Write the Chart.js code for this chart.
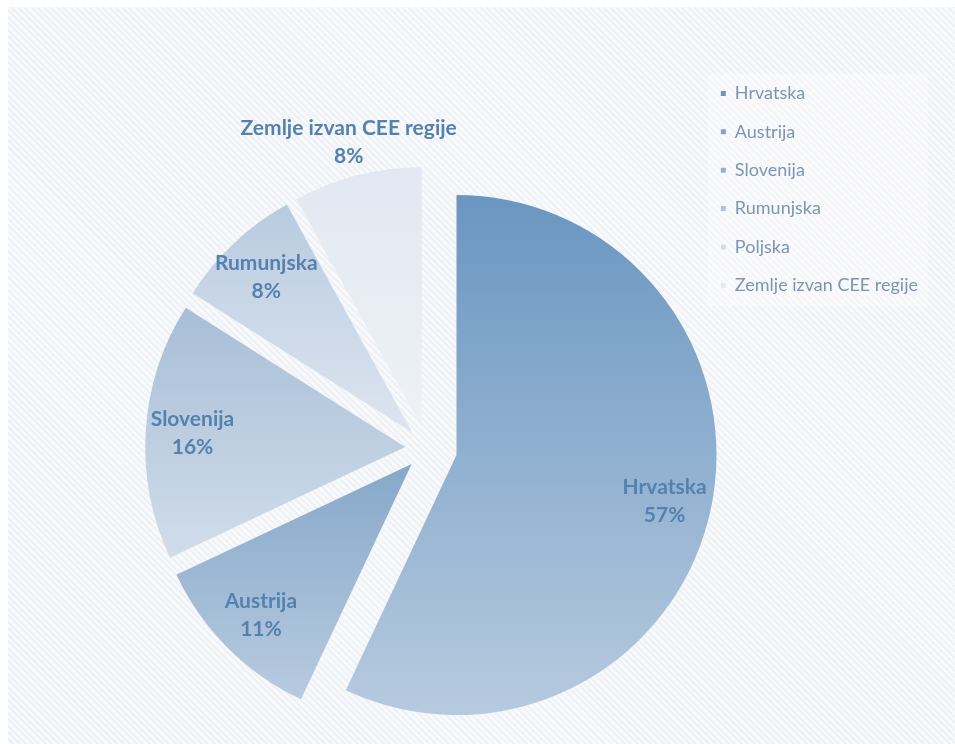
<!DOCTYPE html>
<html>
<head>
<meta charset="utf-8">
<script src="https://cdn.jsdelivr.net/npm/chart.js@4.4.1/dist/chart.umd.min.js"></script>
<style>
  html, body { margin: 0; padding: 0; background: #fff; overflow: hidden; height: 744px; }
  #backdrop {
    position: absolute; left: 8px; top: 7px; width: 947px; height: 737px;
    background: repeating-linear-gradient(45deg, #f8f9fb 0, #f8f9fb 2.6px, #eef1f5 2.6px, #eef1f5 4.6px);
  }
  /* canvas runs past the bottom of the window so the pie sits low beside a top-aligned legend */
  #myChart { position: absolute; left: 0; top: 0; }
</style>
</head>
<body>
<div id="backdrop"></div>
<canvas id="myChart" width="955" height="833"></canvas>
<script>
const countries = ['Hrvatska', 'Austrija', 'Slovenija', 'Rumunjska', 'Poljska', 'Zemlje izvan CEE regije'];
const shares = [57, 11, 16, 8, 0, 8];

// slice fills run top -> bottom, legend keys use a flat tone
const gradientTop = ['#6a96c1', '#86a8ca', '#a7bed7', '#b9cbe0', '#d6dfea', '#e1e8f1'];
const gradientBottom = ['#b6cadf', '#b8cbe0', '#d1dde9', '#dde5ef', '#e9eef4', '#eef2f7'];
const legendColors = ['#6f93bb', '#86a2c2', '#98b0cb', '#b3c3d6', '#d5dde7', '#e6ebf1'];

const pieRadius = 260;
// how far each slice is pulled out (px)
const explodeBy = [30, 22, 22, 22, 22, 22];
const outsideLabels = ['Zemlje izvan CEE regije'];

function sliceGeometry(chart, i) {
  const area = chart.chartArea;
  const total = shares.reduce((a, b) => a + b, 0);
  const before = shares.slice(0, i).reduce((a, b) => a + b, 0);
  const start = -Math.PI / 2 + 2 * Math.PI * before / total;
  const end = start + 2 * Math.PI * shares[i] / total;
  const mid = (start + end) / 2;
  const x = (area.left + area.right) / 2 + Math.cos(mid) * explodeBy[i];
  const y = (area.top + area.bottom) / 2 + Math.sin(mid) * explodeBy[i];
  let top = y, bottom = y;
  for (let k = 0; k <= 40; k++) {
    const a = start + (end - start) * k / 40;
    const py = y + Math.sin(a) * pieRadius;
    top = Math.min(top, py);
    bottom = Math.max(bottom, py);
  }
  return { x, y, mid, top, bottom };
}

function sliceFill(ctx) {
  const chart = ctx.chart;
  const i = ctx.dataIndex;
  if (!chart.chartArea || i === undefined) return gradientBottom[i || 0];
  const g = sliceGeometry(chart, i);
  const grad = chart.ctx.createLinearGradient(0, g.top, 0, g.bottom);
  grad.addColorStop(0, gradientTop[i]);
  grad.addColorStop(1, gradientBottom[i]);
  return grad;
}

// pull every slice out from the middle
const explodePlugin = {
  id: 'explode',
  beforeDatasetsDraw(chart) {
    chart.getDatasetMeta(0).data.forEach((arc, i) => {
      const g = sliceGeometry(chart, i);
      arc.x = g.x;
      arc.y = g.y;
    });
  }
};

// name + percent on each slice
const sliceLabels = {
  id: 'sliceLabels',
  afterDatasetsDraw(chart) {
    const c = chart.ctx;
    c.save();
    c.font = 'bold 21px Lato';
    c.fillStyle = '#5581af';
    c.textAlign = 'center';
    c.textBaseline = 'middle';
    shares.forEach((v, i) => {
      if (!v) return;
      const g = sliceGeometry(chart, i);
      const r = pieRadius * (outsideLabels.includes(countries[i]) ? 1.13 : 0.82);
      const lx = g.x + Math.cos(g.mid) * r;
      const ly = g.y + Math.sin(g.mid) * r;
      c.fillText(countries[i], lx, ly - 14);
      c.fillText(v + '%', lx, ly + 14);
    });
    c.restore();
  }
};

// soft white panel behind the legend
const legendPanel = {
  id: 'legendPanel',
  beforeDraw(chart) {
    const boxes = chart.legend && chart.legend.legendHitBoxes;
    if (!boxes || !boxes.length) return;
    const first = boxes[0], last = boxes[boxes.length - 1];
    const right = Math.max(...boxes.map(b => b.left + b.width));
    const c = chart.ctx;
    c.save();
    c.fillStyle = 'rgba(255,255,255,0.4)';
    c.fillRect(first.left - 13, first.top - 10, right - first.left + 23, last.top + last.height + 12 - (first.top - 10));
    c.restore();
  }
};

const data = {
  labels: countries,
  datasets: [{
    data: shares,
    backgroundColor: sliceFill,
    borderWidth: 0
  }]
};

const config = {
  type: 'pie',
  data: data,
  plugins: [legendPanel, explodePlugin, sliceLabels],
  options: {
    responsive: false,
    animation: false,
    devicePixelRatio: 1,
    radius: pieRadius,
    layout: {
      padding: { left: 154, top: 64, right: 27, bottom: 0 }
    },
    plugins: {
      tooltip: { enabled: false },
      legend: {
        position: 'right',
        align: 'start',
        labels: {
          boxWidth: 5,
          boxHeight: 5,
          padding: 20.4,
          color: '#7b95b4',
          font: { family: 'Lato', size: 18 },
          generateLabels: (chart) => countries.map((name, i) => ({
            text: name,
            fillStyle: legendColors[i],
            strokeStyle: legendColors[i],
            fontColor: '#7b95b4',
            lineWidth: 0,
            hidden: false,
            index: i
          }))
        }
      }
    }
  }
};

const myChart = new Chart(
  document.getElementById('myChart'),
  config
);
</script>
</body>
</html>
